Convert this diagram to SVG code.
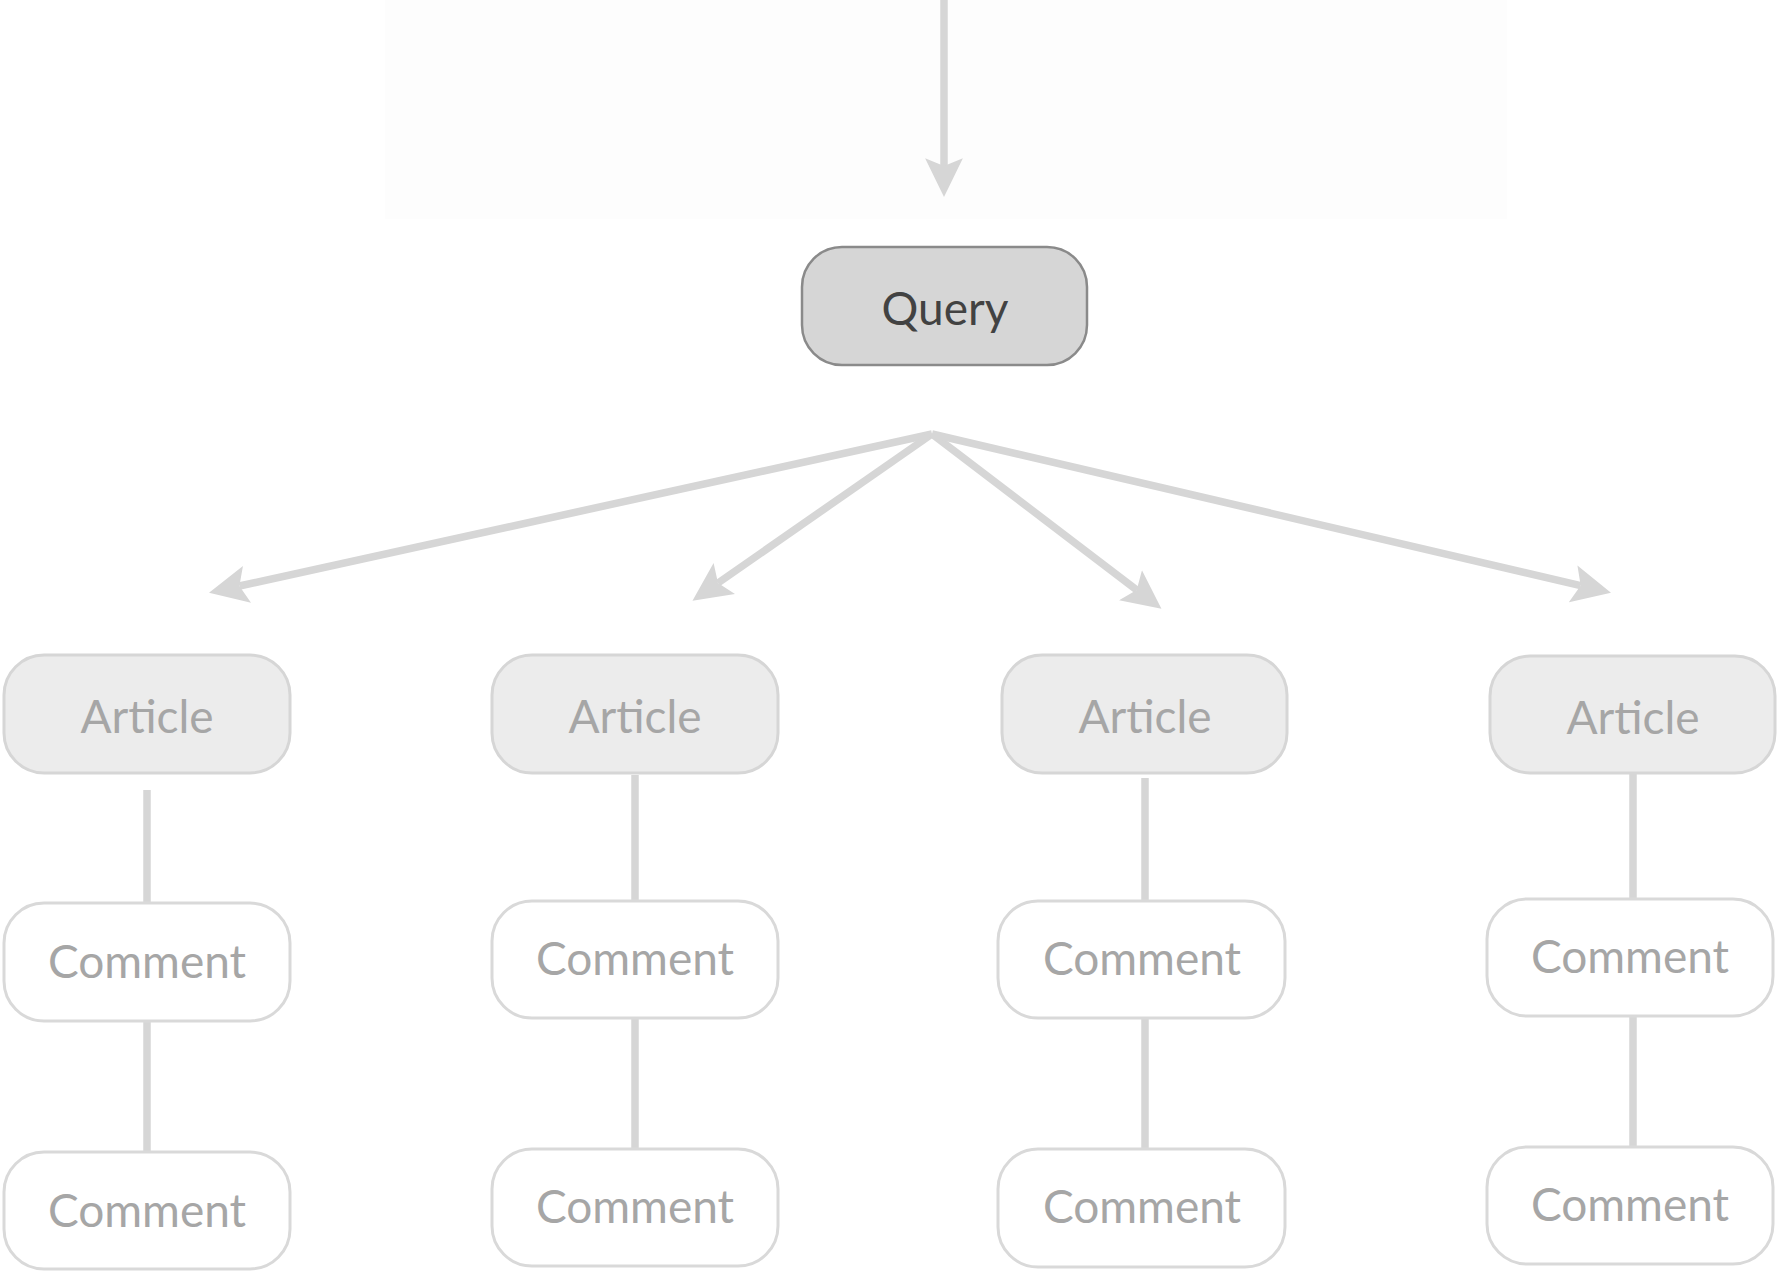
<svg xmlns="http://www.w3.org/2000/svg" width="1777" height="1271" viewBox="0 0 1777 1271">
<style>
.q rect{fill:#d6d6d6;stroke:#8a8a8a;stroke-width:2.5}
.a rect{fill:#ececec;stroke:#d6d6d6;stroke-width:3}
.c rect{fill:#ffffff;stroke:#d9d9d9;stroke-width:3}
text{font-family:Lato,"Open Sans",sans-serif;font-size:46px;text-anchor:middle}
.q text{fill:#424242}
.a text,.c text{fill:#a6a6a6}
.e line{stroke:#d6d6d6;stroke-width:7.5;fill:none}
</style>
<defs>
<marker id="ah" markerUnits="userSpaceOnUse" markerWidth="40" markerHeight="40" viewBox="0 -18 36 36" refX="7" refY="0" orient="auto">
<path d="M0,-17 L35,0 L0,17 L7,0 z" fill="#d6d6d6"/>
</marker>
</defs>
<rect width="1777" height="1271" fill="#ffffff"/>
<rect x="385" y="0" width="1122" height="219" fill="#fdfdfd"/>
<g id="connectors" class="e">
<line x1="944" y1="0" x2="944" y2="166" marker-end="url(#ah)"/>
<line x1="932" y1="434" x2="239.4" y2="586" marker-end="url(#ah)"/>
<line x1="932" y1="434" x2="718" y2="583" marker-end="url(#ah)"/>
<line x1="932" y1="434" x2="1136.7" y2="590" marker-end="url(#ah)"/>
<line x1="932" y1="434" x2="1580.7" y2="585.6" marker-end="url(#ah)"/>
<line x1="147" y1="790" x2="147" y2="903"/>
<line x1="147" y1="1021" x2="147" y2="1152"/>
<line x1="635" y1="775" x2="635" y2="901"/>
<line x1="635" y1="1018" x2="635" y2="1149"/>
<line x1="1145" y1="778" x2="1145" y2="901"/>
<line x1="1145" y1="1018" x2="1145" y2="1149"/>
<line x1="1633" y1="773" x2="1633" y2="899"/>
<line x1="1633" y1="1016" x2="1633" y2="1147"/>
</g>
<g id="query" class="q"><rect x="802" y="247" width="285" height="118" rx="40"/><text x="945" y="325">Query</text></g>
<g id="article1" class="a"><rect x="4" y="655" width="286" height="118" rx="40"/><text x="147" y="733">Article</text></g>
<g id="article2" class="a"><rect x="492" y="655" width="286" height="118" rx="40"/><text x="635" y="733">Article</text></g>
<g id="article3" class="a"><rect x="1002" y="655" width="285" height="118" rx="40"/><text x="1145" y="733">Article</text></g>
<g id="article4" class="a"><rect x="1490" y="656" width="285" height="117" rx="40"/><text x="1633" y="734">Article</text></g>
<g id="comment1a" class="c"><rect x="4" y="903" width="286" height="118" rx="40"/><text x="147" y="978">Comment</text></g>
<g id="comment1b" class="c"><rect x="4" y="1152" width="286" height="117" rx="40"/><text x="147" y="1227">Comment</text></g>
<g id="comment2a" class="c"><rect x="492" y="901" width="286" height="117" rx="40"/><text x="635" y="975">Comment</text></g>
<g id="comment2b" class="c"><rect x="492" y="1149" width="286" height="117" rx="40"/><text x="635" y="1223">Comment</text></g>
<g id="comment3a" class="c"><rect x="998" y="901" width="287" height="117" rx="40"/><text x="1142" y="975">Comment</text></g>
<g id="comment3b" class="c"><rect x="998" y="1149" width="287" height="118" rx="40"/><text x="1142" y="1223">Comment</text></g>
<g id="comment4a" class="c"><rect x="1487" y="899" width="286" height="117" rx="40"/><text x="1630" y="973">Comment</text></g>
<g id="comment4b" class="c"><rect x="1487" y="1147" width="286" height="117" rx="40"/><text x="1630" y="1221">Comment</text></g>
</svg>
